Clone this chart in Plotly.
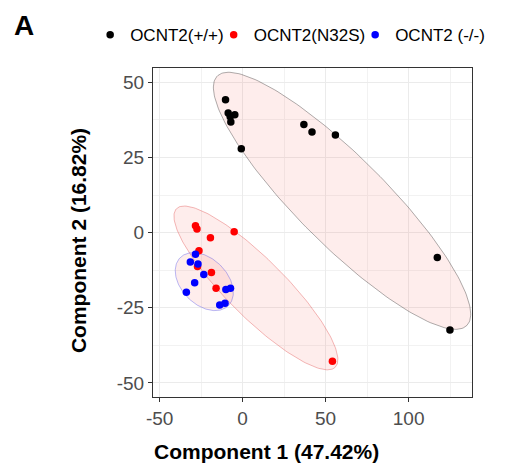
import numpy as np
import plotly.graph_objects as go

# ---- data ----
groups = ["OCNT2(+/+)", "OCNT2(N32S)", "OCNT2 (-/-)"]
colors = ["#000000", "#ff0000", "#0000ff"]

wt_x = [-10.3, -8.7, -4.7, -7.5, -7.1, -0.8, 36.9, 41.8, 55.9, 117.3, 124.9]
wt_y = [44.2, 39.8, 39.2, 38.6, 36.8, 27.9, 36.0, 33.5, 32.5, -8.3, -32.4]

n32s_x = [-28.4, -27.5, -19.4, -5.1, -26.3, -27.2, -18.8, -16.0, 54.1]
n32s_y = [2.3, 1.2, -1.7, 0.3, -6.0, -11.3, -13.3, -18.5, -42.8]

ko_x = [-28.4, -31.5, -26.9, -23.4, -28.9, -33.9, -10.1, -7.3, -13.8, -10.6]
ko_y = [-7.2, -9.8, -10.4, -13.9, -16.7, -19.8, -18.9, -18.5, -24.1, -23.5]

# ellipse: centre (x, y), major half-axis vector (dx, dy), minor half-axis vector (dx, dy)
ell_center = [(59.9, 10.6), (8.0, -18.4), (-23.1, -16.3)]
ell_major = [(75.2, -41.5), (47.8, -26.4), (14.5, -8.0)]
ell_minor = [(18.8, 10.4), (12.4, 6.8), (9.8, 5.4)]
ell_line = ["rgba(0,0,0,0.4)", "rgba(220,60,60,0.45)", "rgba(60,60,230,0.45)"]
ell_fill = "rgba(248,118,109,0.13)"

x_ticks = [-50, 0, 50, 100]
x_tick_labels = ["-50", "0", "50", "100"]
y_ticks = [-50, -25, 0, 25, 50]
y_tick_labels = ["-50", "-25", "0", "25", "50"]

x_title = "Component 1 (47.42%)"
y_title = "Component 2 (16.82%)"

fig = go.Figure()

t = np.linspace(0, 2 * np.pi, 200)
for (cx, cy), (ux, uy), (vx, vy), lc in zip(ell_center, ell_major, ell_minor, ell_line):
    ex = cx + np.cos(t) * ux + np.sin(t) * vx
    ey = cy + np.cos(t) * uy + np.sin(t) * vy
    fig.add_trace(go.Scatter(x=ex, y=ey, mode="lines", fill="toself",
                             fillcolor=ell_fill, line=dict(color=lc, width=0.8),
                             hoverinfo="skip", showlegend=False))

for name, xs, ys, c in zip(groups, [wt_x, n32s_x, ko_x], [wt_y, n32s_y, ko_y], colors):
    fig.add_trace(go.Scatter(x=xs, y=ys, mode="markers", name=name,
                             marker=dict(color=c, size=7.5, line=dict(width=0))))

axis_common = dict(
    showline=True, linecolor="#333333", linewidth=1, mirror=True,
    ticks="outside", ticklen=4, tickcolor="#333333", tickwidth=1,
    showgrid=True, gridcolor="#ebebeb", gridwidth=1.2,
    zeroline=False,
    tickfont=dict(family="Liberation Sans, Arial", size=19, color="#4d4d4d"),
)

fig.update_xaxes(range=[-54, 138.2], tickvals=x_ticks, ticktext=x_tick_labels,
                 minor=dict(dtick=25, tick0=-25, showgrid=True, gridcolor="#f2f2f2", gridwidth=0.8),
                 **axis_common)
fig.update_yaxes(range=[-54.7, 54.8], tickvals=y_ticks, ticktext=y_tick_labels,
                 minor=dict(dtick=12.5, tick0=-37.5, showgrid=True, gridcolor="#f2f2f2", gridwidth=0.8),
                 **axis_common)

title_font = dict(family="Liberation Sans, Arial", size=21, color="#000000")

fig.update_layout(
    width=490, height=459,
    margin=dict(l=145, r=26, t=60, b=70, autoexpand=False),
    plot_bgcolor="white", paper_bgcolor="white",
    legend=dict(orientation="h", x=-0.15, xanchor="left", y=1.10, yanchor="middle",
                font=dict(family="Liberation Sans, Arial", size=17, color="#000000"),
                itemwidth=30, indentation=-15, tracegroupgap=0, bgcolor="rgba(0,0,0,0)"),
    annotations=[
        dict(text="<b>A</b>", x=-0.442, y=1.128, xref="paper", yref="paper",
             xanchor="left", yanchor="middle", showarrow=False,
             font=dict(family="Liberation Sans, Arial", size=28, color="#000000")),
        dict(text="<b>" + x_title + "</b>", x=0.357, y=-0.166, xref="paper", yref="paper",
             xanchor="center", yanchor="middle", showarrow=False, font=title_font),
        dict(text="<b>" + y_title + "</b>", x=-0.235, y=0.474, xref="paper", yref="paper",
             xanchor="center", yanchor="middle", showarrow=False, textangle=-90,
             font=title_font),
    ],
)

fig.write_html("out.html")
